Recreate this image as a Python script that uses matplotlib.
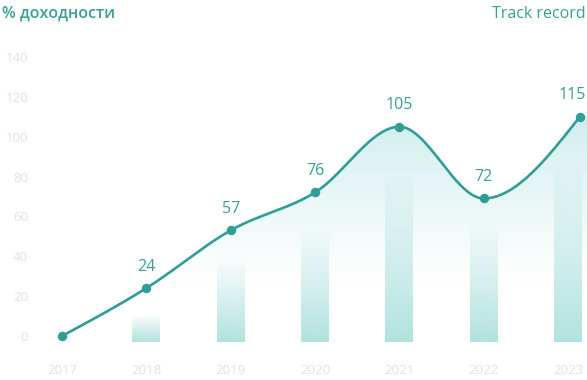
import numpy as np
import matplotlib
matplotlib.use("Agg")
import matplotlib.pyplot as plt
from matplotlib.patches import Polygon
from matplotlib.colors import to_rgb

# ---- data ----
years = ["2017", "2018", "2019", "2020", "2021", "2022", "2023"]
point_values = [0, 24, 53, 72, 105, 69, 110]          # dot heights as drawn
label_texts = ["", "24", "57", "76", "105", "72", "115"]  # printed labels
bar_years = ["2018", "2019", "2020", "2021", "2022", "2023"]
bar_tops = [10, 37, 52, 80, 55, 84]
bar_base = -3
yticks = [0, 20, 40, 60, 80, 100, 120, 140]

TEAL = "#2f9e99"
TEXT_TEAL = "#3a9e9a"
TICK = "#e2e2e2"
BAR = "#b0e2df"
AREA = "#3fb8b2"

plt.rcParams['font.family'] = ['Open Sans', 'DejaVu Sans']

W, H = 587, 380
fig = plt.figure(figsize=(W / 100, H / 100), dpi=100)
fig.patch.set_facecolor("white")
ax = fig.add_axes([40 / W, 28 / H, 547 / W, 312 / H])
ax.set_facecolor("white")

xs = np.arange(len(years), dtype=float)
px = xs.copy()
px[-1] += 0.14  # last point sits at the right edge in the reference


def monotone(x, y, n=60):
    x = np.asarray(x, float)
    y = np.asarray(y, float)
    h = np.diff(x)
    s = np.diff(y) / h
    m = np.zeros_like(y)
    for i in range(1, len(y) - 1):
        s0, s1 = s[i - 1], s[i]
        p = (s0 * h[i] + s1 * h[i - 1]) / (h[i - 1] + h[i])
        m[i] = (np.sign(s0) + np.sign(s1)) * min(abs(s0), abs(s1), 0.5 * abs(p))
    m[0] = (3 * s[0] - m[1]) / 2
    m[-1] = (3 * s[-1] - m[-2]) / 2
    X, Y = [], []
    for i in range(len(h)):
        t = np.linspace(0, 1, n)
        h00 = 2 * t**3 - 3 * t**2 + 1
        h10 = t**3 - 2 * t**2 + t
        h01 = -2 * t**3 + 3 * t**2
        h11 = t**3 - t**2
        X.append(x[i] + t * h[i])
        Y.append(h00 * y[i] + h10 * h[i] * m[i] + h01 * y[i + 1] + h11 * h[i] * m[i + 1])
    return np.concatenate(X), np.concatenate(Y)


cx, cy = monotone(px, point_values)

xlim = (-0.261, 6.225)
ylim = (-8.03, 148.5)

# area gradient under the curve
r, g, b = to_rgb(AREA)
ny = 300
yy = np.linspace(ylim[0], ylim[1], ny)
alpha = np.clip((yy - 25) / (110 - 25), 0, 1) ** 1.1 * 0.24
img = np.zeros((ny, 1, 4))
img[..., 0], img[..., 1], img[..., 2] = r, g, b
img[:, 0, 3] = alpha
poly_xy = np.vstack([np.column_stack([cx, cy]),
                     [[xlim[1], cy[-1]], [xlim[1], bar_base], [cx[0], bar_base]]])
poly = Polygon(poly_xy, closed=True, facecolor="none", edgecolor="none")
ax.add_patch(poly)
im = ax.imshow(img, extent=[xlim[0], xlim[1], ylim[0], ylim[1]], origin="lower",
               aspect="auto", zorder=1, interpolation="bilinear")
im.set_clip_path(poly)

# gradient bars
br, bg, bb = to_rgb(BAR)
bw = 0.332
for yr, top in zip(bar_years, bar_tops):
    xi = years.index(yr)
    n = 200
    t = np.linspace(0, 1, n)
    a = (1 - t) ** 0.9 * 0.95 + 0.03
    bimg = np.zeros((n, 1, 4))
    bimg[..., 0], bimg[..., 1], bimg[..., 2] = br, bg, bb
    bimg[:, 0, 3] = a
    ax.imshow(bimg, extent=[xi - bw / 2, xi + bw / 2, bar_base, top], origin="lower",
              aspect="auto", zorder=2, interpolation="bilinear")

# line and dots
ax.plot(cx, cy, color=TEAL, lw=1.9, zorder=3, solid_capstyle="round")
ax.plot(px, point_values, "o", color=TEAL, ms=5.8, zorder=4)

last = len(label_texts) - 1
for i, (x, v, lab) in enumerate(zip(px, point_values, label_texts)):
    if not lab:
        continue
    if i == last:
        ax.annotate(lab, (x, v), xytext=(4.3, 15.5), textcoords="offset points",
                    ha="right", va="center", fontsize=11.5, color=TEXT_TEAL)
    else:
        ax.annotate(lab, (x, v), xytext=(0, 15.5), textcoords="offset points",
                    ha="center", va="center", fontsize=11.5, color=TEXT_TEAL)

ax.set_xlim(*xlim)
ax.set_ylim(*ylim)
ax.set_xticks(xs)
ax.set_xticklabels(years)
ax.set_yticks(yticks)
ax.set_yticklabels([str(v) for v in yticks])
ax.tick_params(axis="both", length=0, colors=TICK, labelsize=9.5)
ax.tick_params(axis="y", pad=8.6)
ax.tick_params(axis="x", pad=8.6)
for s in ax.spines.values():
    s.set_visible(False)

fig.text(2 / W, 1 - 14 / H, "% доходности", ha="left", va="center",
         fontsize=11.5, fontweight="semibold", color=TEXT_TEAL)
fig.text(586 / W, 1 - 14 / H, "Track record", ha="right", va="center",
         fontsize=11.5, color=TEXT_TEAL)

fig.savefig("out.png", dpi=100, facecolor="white")
